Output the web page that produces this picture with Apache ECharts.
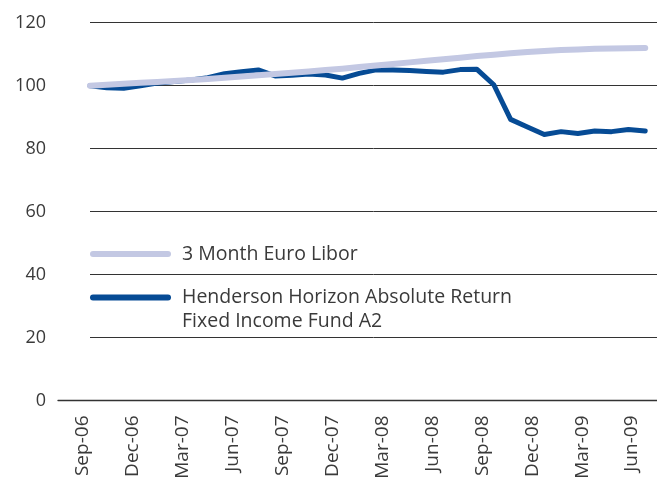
<!DOCTYPE html>
<html>
<head>
<meta charset="utf-8">
<script src="https://cdn.jsdelivr.net/npm/echarts@6/dist/echarts.min.js"></script>
<style>
  html, body { margin: 0; padding: 0; background: #fff; }
  #chart { width: 657px; height: 482px; }
</style>
</head>
<body>
<div id="chart"></div>
<script>
// monthly points, Sep-06 .. Jun-09
const months = ['Sep-06','Oct-06','Nov-06','Dec-06','Jan-07','Feb-07','Mar-07','Apr-07','May-07','Jun-07','Jul-07','Aug-07',
  'Sep-07','Oct-07','Nov-07','Dec-07','Jan-08','Feb-08','Mar-08','Apr-08','May-08','Jun-08','Jul-08','Aug-08',
  'Sep-08','Oct-08','Nov-08','Dec-08','Jan-09','Feb-09','Mar-09','Apr-09','May-09','Jun-09'];
const libor = [100.0,100.3,100.6,100.9,101.2,101.5,101.8,102.1,102.5,102.9,103.3,103.7,
  104.1,104.5,105.0,105.4,105.9,106.4,106.9,107.4,107.9,108.4,108.9,109.4,
  109.8,110.3,110.7,111.0,111.3,111.5,111.7,111.8,111.9,112.0];
const fund = [100.0,99.3,99.2,100.0,100.8,101.3,101.8,102.5,103.8,104.4,105.0,103.1,
  103.3,103.7,103.4,102.4,103.9,105.0,105.0,104.8,104.5,104.3,105.1,105.2,
  100.3,89.3,86.9,84.5,85.4,84.8,85.6,85.4,86.1,85.6];
// axis labels (one per quarter)
const quarterLabels = ['Sep-06','Dec-06','Mar-07','Jun-07','Sep-07','Dec-07','Mar-08','Jun-08','Sep-08','Dec-08','Mar-09','Jun-09'];
const liborName = '3 Month Euro Libor';
const fundName = 'Henderson Horizon Absolute Return\nFixed Income Fund A2';

const txt = '#3a3a3a';
const font = 'Open Sans';

const chart = echarts.init(document.getElementById('chart'));
chart.setOption({
  animation: false,
  backgroundColor: '#fff',
  textStyle: { fontFamily: font },
  grid: [
    // grid for axis line, ticks and date labels
    { left: 58, width: 607, top: 22.7, bottom: 81.5 },
    // grid for the series and the horizontal gridlines
    { left: 90, right: 0, top: 22.7, bottom: 81.5 }
  ],
  xAxis: [
    {
      gridIndex: 0, type: 'category', data: quarterLabels, boundaryGap: true,
      axisLine: { lineStyle: { color: '#333', width: 1.3 } },
      axisTick: { inside: true, length: 7, lineStyle: { color: '#333', width: 1.3 } },
      axisLabel: { interval: 0, rotate: 90, margin: 15, fontSize: 19, color: txt, fontFamily: font },
      splitLine: { show: false }
    },
    { gridIndex: 1, type: 'value', min: 0, max: 33.7, show: false, splitLine: { show: false } }
  ],
  yAxis: [
    { gridIndex: 0, type: 'value', min: 0, max: 120, show: false },
    {
      gridIndex: 1, type: 'value', min: 0, max: 120, interval: 20,
      axisLine: { show: false }, axisTick: { show: false },
      axisLabel: { margin: 44, fontSize: 18, color: txt, fontFamily: font },
      splitLine: { lineStyle: { color: '#333', width: 1 } }
    }
  ],
  legend: {
    orient: 'vertical', left: 90, top: 242, padding: 0, itemGap: -4.5,
    itemWidth: 81, itemHeight: 6,
    icon: 'path://M3,0 L78,0 A3,3 0 0 1 78,6 L3,6 A3,3 0 0 1 3,0 Z',
    // blank first line keeps the icon level with the first text line
    formatter: name => (name === fundName ? '\n' + name : name),
    textStyle: { fontSize: 19.5, color: txt, fontFamily: font, lineHeight: 24, padding: [0, 0, 0, 6] },
    data: [liborName, fundName]
  },
  series: [
    {
      name: fundName, type: 'line', xAxisIndex: 1, yAxisIndex: 1,
      data: months.map((m, i) => [i, fund[i]]),
      showSymbol: false, symbol: 'none',
      color: '#064b95',
      lineStyle: { color: '#064b95', width: 5, cap: 'round', join: 'round' }
    },
    {
      name: liborName, type: 'line', xAxisIndex: 1, yAxisIndex: 1,
      data: months.map((m, i) => [i, libor[i]]),
      showSymbol: false, symbol: 'none',
      color: '#c3c8e3',
      lineStyle: { color: '#c3c8e3', width: 6, cap: 'round', join: 'round' }
    }
  ]
});
</script>
</body>
</html>
